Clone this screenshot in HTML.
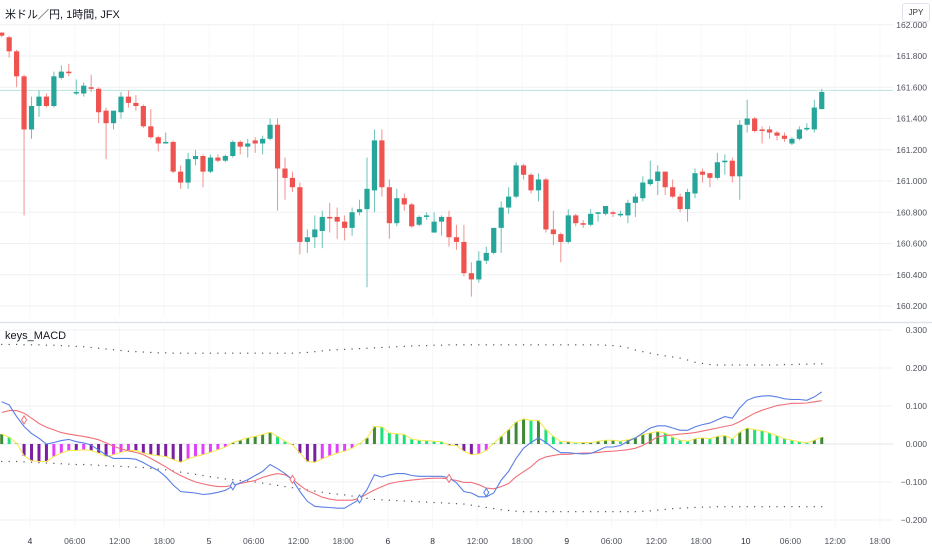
<!DOCTYPE html>
<html><head><meta charset="utf-8">
<style>
html,body{margin:0;padding:0;background:#fff;}
body{width:932px;height:550px;overflow:hidden;position:relative;font-family:"Liberation Sans","Noto Sans CJK JP",sans-serif;}
#title{position:absolute;left:5px;top:6px;font-size:11px;color:#131722;}
#macdtitle{position:absolute;left:5px;top:330px;font-size:11px;color:#131722;}
#jpy{position:absolute;left:902px;top:3px;width:26px;height:17px;border:1px solid #e0e3eb;border-radius:3px;font-size:8px;color:#333;text-align:center;line-height:17px;background:#fff;}
svg{position:absolute;left:0;top:0;}
</style></head><body>
<svg id="chart" width="932" height="550"></svg>
<div id="title">米ドル／円, 1時間, JFX</div>
<div id="macdtitle">keys_MACD</div>
<div id="jpy">JPY</div>
<script>
const open=[161.95,161.92,161.83,161.67,161.33,161.48,161.54,161.48,161.66,161.70,
161.56,161.56,161.60,161.59,161.45,161.37,161.44,161.54,161.50,161.48,
161.35,161.28,161.24,161.25,161.06,160.99,161.14,161.16,161.06,161.15,
161.13,161.16,161.25,161.22,161.26,161.24,161.27,161.36,161.08,161.02,
160.96,160.61,160.64,160.68,160.77,160.77,160.74,160.70,160.80,160.82,
160.94,161.26,160.96,160.73,160.89,160.85,160.72,160.77,160.67,160.74,
160.77,160.64,160.61,160.41,160.37,160.49,160.54,160.70,160.83,160.90,
161.10,161.04,160.94,161.01,160.69,160.66,160.61,160.78,160.73,160.72,
160.79,160.79,160.80,160.78,160.78,160.86,160.89,160.98,161.00,161.06,
160.96,160.90,160.82,160.92,161.06,161.05,161.02,161.12,161.13,161.03,
161.36,161.40,161.33,161.33,161.31,161.29,161.24,161.27,161.33,161.33,
161.46];
const close=[161.93,161.83,161.67,161.33,161.48,161.54,161.48,161.67,161.70,161.69,
161.57,161.61,161.59,161.44,161.37,161.45,161.54,161.50,161.48,161.35,
161.28,161.24,161.25,161.06,160.99,161.14,161.16,161.06,161.15,161.13,
161.16,161.25,161.22,161.24,161.24,161.27,161.36,161.08,161.02,160.96,
160.61,160.64,160.69,160.77,160.76,160.74,160.70,160.80,160.82,160.95,
161.26,160.96,160.73,160.89,160.85,160.71,160.77,160.78,160.74,160.77,
160.64,160.61,160.41,160.37,160.49,160.54,160.70,160.83,160.90,161.10,
161.04,160.94,161.01,160.69,160.66,160.61,160.78,160.73,160.72,160.79,
160.80,160.84,160.79,160.79,160.86,160.90,160.99,161.01,161.06,160.96,
160.90,160.82,160.93,161.05,161.04,161.02,161.12,161.13,161.03,161.36,
161.40,161.32,161.32,161.31,161.29,161.27,161.27,161.33,161.34,161.47,
161.57];
const high=[161.95,161.93,161.84,161.68,161.54,161.58,161.56,161.70,161.74,161.75,
161.65,161.63,161.68,161.60,161.47,161.45,161.57,161.58,161.55,161.49,
161.46,161.29,161.31,161.26,161.10,161.18,161.20,161.17,161.17,161.17,
161.17,161.26,161.26,161.27,161.28,161.29,161.40,161.40,161.15,161.06,
160.99,160.69,160.78,160.81,160.86,160.83,160.78,160.83,160.88,161.15,
161.33,161.33,161.01,160.95,160.92,160.86,160.78,160.80,160.80,160.78,
160.81,160.72,160.72,160.48,160.55,160.58,160.70,160.87,160.96,161.12,
161.11,161.05,161.05,161.02,160.81,160.67,160.82,160.79,160.75,160.82,
160.80,160.84,160.81,160.81,160.88,160.92,161.03,161.13,161.10,161.06,
161.01,160.92,160.95,161.08,161.08,161.05,161.18,161.17,161.15,161.39,
161.52,161.41,161.35,161.35,161.32,161.31,161.28,161.35,161.37,161.52,
161.59];
const low=[161.92,161.79,161.60,160.78,161.27,161.41,161.47,161.47,161.65,161.67,
161.55,161.54,161.57,161.37,161.14,161.33,161.40,161.47,161.45,161.34,
161.27,161.19,161.24,161.05,160.95,160.95,161.10,160.96,161.05,161.12,
161.12,161.15,161.17,161.15,161.18,161.17,161.26,160.81,160.88,160.93,
160.53,160.54,160.57,160.57,160.67,160.63,160.62,160.65,160.78,160.32,
160.80,160.90,160.63,160.71,160.81,160.70,160.71,160.75,160.67,160.65,
160.58,160.56,160.39,160.26,160.35,160.47,160.53,160.54,160.79,160.89,
161.01,160.92,160.87,160.67,160.59,160.48,160.60,160.71,160.70,160.71,
160.74,160.78,160.77,160.77,160.73,160.77,160.87,160.97,160.91,160.91,
160.89,160.80,160.74,160.89,160.99,160.96,161.01,161.04,160.99,160.88,
161.31,161.31,161.24,161.27,161.26,161.25,161.23,161.26,161.32,161.31,
161.46];
const hist=[0.026,0.018,0.002,-0.031,-0.044,-0.046,-0.046,-0.033,-0.024,-0.017,
-0.017,-0.015,-0.017,-0.024,-0.033,-0.028,-0.022,-0.017,-0.017,-0.024,
-0.028,-0.031,-0.033,-0.041,-0.048,-0.039,-0.033,-0.028,-0.022,-0.015,
-0.008,0.004,0.010,0.016,0.020,0.025,0.031,0.020,0.007,-0.002,
-0.024,-0.046,-0.048,-0.039,-0.031,-0.024,-0.019,-0.011,0.001,0.016,
0.046,0.045,0.029,0.027,0.025,0.013,0.010,0.009,0.007,0.006,
-0.003,-0.004,-0.019,-0.028,-0.026,-0.017,0.002,0.020,0.038,0.058,
0.066,0.062,0.062,0.038,0.020,0.006,0.006,0.003,0.004,0.004,
0.007,0.010,0.010,0.007,0.011,0.016,0.025,0.029,0.033,0.029,
0.018,0.010,0.007,0.014,0.016,0.014,0.020,0.022,0.014,0.031,
0.042,0.038,0.035,0.029,0.022,0.014,0.010,0.006,0.003,0.010,
0.018];
const macd=[0.111,0.103,0.072,0.046,0.028,0.015,0.000,0.004,0.009,0.012,
0.006,0.003,-0.003,-0.016,-0.029,-0.038,-0.038,-0.038,-0.040,-0.049,
-0.060,-0.070,-0.086,-0.108,-0.125,-0.127,-0.129,-0.133,-0.131,-0.127,
-0.122,-0.111,-0.102,-0.094,-0.083,-0.072,-0.054,-0.065,-0.078,-0.094,
-0.125,-0.151,-0.164,-0.166,-0.167,-0.169,-0.169,-0.157,-0.146,-0.120,
-0.081,-0.087,-0.081,-0.078,-0.078,-0.083,-0.085,-0.085,-0.085,-0.085,
-0.089,-0.102,-0.125,-0.129,-0.139,-0.139,-0.129,-0.095,-0.072,-0.038,
-0.011,0.004,0.016,0.004,-0.011,-0.023,-0.023,-0.025,-0.026,-0.025,
-0.017,-0.008,-0.008,-0.004,0.007,0.016,0.029,0.042,0.048,0.048,
0.042,0.036,0.036,0.045,0.051,0.055,0.064,0.072,0.068,0.095,
0.115,0.123,0.126,0.127,0.124,0.119,0.117,0.117,0.115,0.124,
0.137];
const signal=[0.083,0.088,0.088,0.081,0.068,0.054,0.044,0.037,0.030,0.026,
0.023,0.020,0.016,0.011,0.003,-0.006,-0.013,-0.018,-0.022,-0.028,
-0.038,-0.049,-0.060,-0.073,-0.083,-0.092,-0.100,-0.105,-0.109,-0.112,
-0.112,-0.109,-0.104,-0.100,-0.096,-0.088,-0.082,-0.078,-0.081,-0.092,
-0.109,-0.123,-0.131,-0.140,-0.145,-0.148,-0.148,-0.148,-0.143,-0.131,
-0.121,-0.112,-0.104,-0.100,-0.097,-0.095,-0.093,-0.091,-0.090,-0.090,
-0.092,-0.096,-0.101,-0.101,-0.107,-0.116,-0.118,-0.112,-0.104,-0.086,
-0.073,-0.060,-0.042,-0.034,-0.030,-0.027,-0.027,-0.025,-0.024,-0.024,
-0.022,-0.020,-0.019,-0.017,-0.015,-0.011,-0.004,0.007,0.019,0.022,
0.024,0.026,0.028,0.030,0.034,0.038,0.042,0.046,0.050,0.059,
0.070,0.081,0.089,0.095,0.101,0.104,0.107,0.107,0.108,0.111,
0.114];
const upper=[0.262,0.262,0.262,0.261,0.261,0.261,0.260,0.260,0.259,0.258,
0.257,0.256,0.254,0.252,0.250,0.248,0.246,0.244,0.243,0.242,
0.241,0.240,0.240,0.239,0.239,0.239,0.239,0.239,0.239,0.239,
0.239,0.239,0.239,0.239,0.239,0.239,0.239,0.239,0.239,0.239,
0.240,0.241,0.243,0.245,0.247,0.248,0.249,0.250,0.251,0.252,
0.253,0.254,0.255,0.256,0.257,0.258,0.259,0.259,0.260,0.260,
0.261,0.261,0.261,0.261,0.261,0.261,0.261,0.261,0.261,0.261,
0.261,0.261,0.261,0.261,0.261,0.261,0.261,0.261,0.261,0.261,
0.261,0.260,0.259,0.257,0.253,0.247,0.243,0.239,0.235,0.232,
0.229,0.226,0.221,0.215,0.212,0.209,0.208,0.208,0.208,0.208,
0.208,0.208,0.208,0.208,0.208,0.209,0.209,0.210,0.210,0.211,
0.211];
const lower=[-0.046,-0.046,-0.046,-0.047,-0.048,-0.049,-0.050,-0.051,-0.052,-0.053,
-0.054,-0.054,-0.055,-0.056,-0.057,-0.058,-0.059,-0.060,-0.061,-0.062,
-0.064,-0.066,-0.068,-0.071,-0.074,-0.077,-0.080,-0.083,-0.086,-0.089,
-0.092,-0.094,-0.096,-0.098,-0.100,-0.103,-0.106,-0.109,-0.112,-0.115,
-0.118,-0.121,-0.124,-0.127,-0.130,-0.132,-0.134,-0.137,-0.140,-0.143,
-0.146,-0.147,-0.148,-0.149,-0.150,-0.151,-0.152,-0.153,-0.154,-0.155,
-0.156,-0.157,-0.158,-0.161,-0.164,-0.167,-0.170,-0.173,-0.175,-0.177,
-0.178,-0.178,-0.178,-0.178,-0.178,-0.178,-0.178,-0.178,-0.178,-0.178,
-0.178,-0.178,-0.178,-0.178,-0.178,-0.178,-0.177,-0.176,-0.174,-0.172,
-0.170,-0.169,-0.168,-0.167,-0.166,-0.166,-0.165,-0.165,-0.165,-0.165,
-0.165,-0.165,-0.165,-0.165,-0.165,-0.165,-0.165,-0.165,-0.165,-0.165,
-0.165];
const crossIdx=[3,31,39,48,60,65];
const crossType=['dn','up','dn','up','dn','up'];
const priceTicks=[162.0,161.8,161.6,161.4,161.2,161.0,160.8,160.6,160.4,160.2];
const macdTicks=[0.3,0.2,0.1,0.0,-0.1,-0.2];
const timeLabels=['4','06:00','12:00','18:00','5','06:00','12:00','18:00','6','8','12:00','18:00','9','06:00','12:00','18:00','10','06:00','12:00','18:00'];
const timeSlots=[3.8,9.8,15.8,21.8,27.8,33.8,39.8,45.8,51.8,57.8,63.8,69.8,75.8,81.8,87.8,93.8,99.8,105.8,111.8,117.8];
const lastPrice=161.58;

const NS='http://www.w3.org/2000/svg';
const svg=document.getElementById('chart');
const X=i=>1.7+7.455*i;
const YP=p=>56+(161.8-p)/0.0064;
const YM=v=>444-v*380;
const PLOT_R=893;
function mk(tag,attrs,parent){const e=document.createElementNS(NS,tag);for(const k in attrs)e.setAttribute(k,attrs[k]);(parent||svg).appendChild(e);return e;}

const grid=mk('g',{});


timeSlots.forEach((s,k)=>{
  const l=mk('line',{x1:X(s),x2:X(s),y1:22,y2:318,stroke:'#f7f8fa','stroke-width':1},grid);
  
  
  const l2=mk('line',{x1:X(s),x2:X(s),y1:326,y2:528,stroke:'#f7f8fa','stroke-width':1},grid);
  
  
});
priceTicks.forEach(p=>{
  const y=YP(p);
  const l=mk('line',{x1:0,x2:PLOT_R,y1:y,y2:y,stroke:'#f0f1f4','stroke-width':1},grid);
  
  
  const t=mk('text',{x:927,y:y+3,'text-anchor':'end','font-size':8.5,fill:'#50535e'});
  t.textContent=p.toFixed(3);
  
  
});
macdTicks.forEach(v=>{
  const y=YM(v);
  const l=mk('line',{x1:0,x2:PLOT_R,y1:y,y2:y,stroke:v===0?'#e3e5ea':'#f0f1f4','stroke-width':1},grid);
  
  
  const t=mk('text',{x:927,y:y+3,'text-anchor':'end','font-size':8.5,fill:'#50535e'});
  t.textContent=(v<0?'−':'')+Math.abs(v).toFixed(3);
  
  
});
const sep=mk('line',{x1:0,x2:932,y1:322.5,y2:322.5,stroke:'#e0e3eb','stroke-width':1.5});


timeSlots.forEach((s,k)=>{
  const t=mk('text',{x:X(s),y:544,'text-anchor':'middle','font-size':8.5,fill:/^\d+$/.test(timeLabels[k])?'#2a2e39':'#50535e'});
  t.textContent=timeLabels[k];
  
  
});
const lp=mk('line',{x1:0,x2:PLOT_R,y1:YP(lastPrice),y2:YP(lastPrice),stroke:'#b9e2dd','stroke-width':1});



const cg=mk('g',{});


for(let i=0;i<open.length;i++){
  const up=close[i]>=open[i];
  const col=up?'#26a69a':'#ef5350';
  const x=X(i);
  const w=mk('line',{x1:x,x2:x,y1:YP(high[i]),y2:YP(low[i]),stroke:up?'#6cc3b9':'#f3908e','stroke-width':1},cg);
  
  
  const t=Math.min(YP(open[i]),YP(close[i]));
  const h=Math.max(1,Math.abs(YP(open[i])-YP(close[i])));
  const b=mk('rect',{x:x-2.6,y:t,width:5.2,height:h,fill:col},cg);
  
  
}

const hg=mk('g',{});


let hp='';
for(let i=0;i<hist.length;i++){
  const v=hist[i],prev=i>0?hist[i-1]:v;
  let col;
  if(v>=0)col=v>=prev?'#3f8a35':'#1ee07a';
  else col=v<=prev?'#7b1fa2':'#e040fb';
  const y0=YM(0),y1=YM(v);
  const r=mk('rect',{x:X(i)-1.5,y:Math.min(y0,y1),width:3,height:Math.max(0.5,Math.abs(y1-y0)),fill:col},hg);
  
  
  hp+=(i?'L':'M')+X(i).toFixed(1)+','+y1.toFixed(1);
}
const ho=mk('path',{d:hp,fill:'none',stroke:'#f5e94a','stroke-width':1});



[[upper,'upper-band'],[lower,'lower-band']].forEach(([arr,name])=>{
  const g=mk('g',{});
  
  
  for(let i=0;i<arr.length;i++){
    const d=mk('rect',{x:X(i)-0.6,y:YM(arr[i])-0.6,width:1.2,height:1.2,fill:'#555'},g);
    
    
  }
});
function line(arr,col,name){
  let d='';
  arr.forEach((v,i)=>{d+=(i?'L':'M')+X(i).toFixed(1)+','+YM(v).toFixed(1);});
  const p=mk('path',{d:d,fill:'none',stroke:col,'stroke-width':1.1});
  
  
}
line(signal,'#f07078','signal-line');
line(macd,'#5a7ee6','macd-line');
crossIdx.forEach((ci,k)=>{
  const x=X(ci),y=YM((macd[ci]+signal[ci])/2);
  const col=crossType[k]==='up'?'#5a7ee6':'#f07078';
  const m=mk('path',{d:`M${x},${y-4}L${x+2.5},${y}L${x},${y+4}L${x-2.5},${y}Z`,fill:'#fff',stroke:col,'stroke-width':1});
  
  
});
</script>
</body></html>
